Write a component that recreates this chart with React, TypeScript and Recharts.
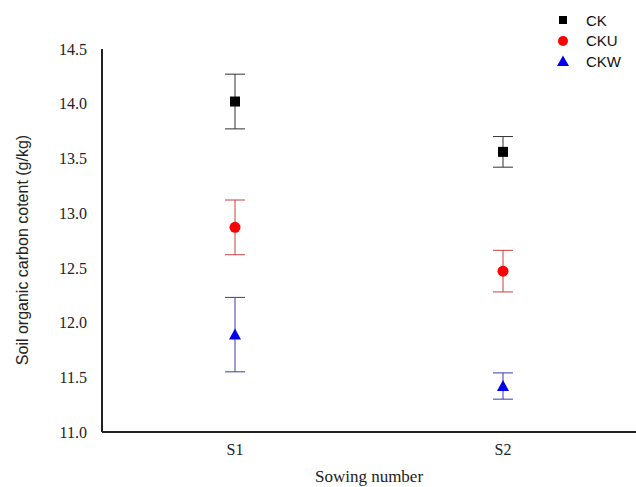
import React from "react";
import {
  ComposedChart,
  Line,
  XAxis,
  YAxis,
  ErrorBar,
  Legend,
  Label,
} from "recharts";

// sowing dates on the x axis
const categories = ["S1", "S2"];

// soil organic carbon, g/kg, with error values
const ck = [14.02, 13.56];
const ckErr = [0.25, 0.14];
const cku = [12.87, 12.47];
const ckuErr = [0.25, 0.19];
const ckw = [11.89, 11.42];
const ckwErr = [0.34, 0.12];

const yTicks = [11.0, 11.5, 12.0, 12.5, 13.0, 13.5, 14.0, 14.5];

const data = categories.map((name, i) => ({
  name,
  ck: ck[i],
  ckErr: ckErr[i],
  cku: cku[i],
  ckuErr: ckuErr[i],
  ckw: ckw[i],
  ckwErr: ckwErr[i],
}));

const SquareDot = (props: any) => {
  const { cx, cy } = props;
  if (cx == null || cy == null) return null;
  return <rect x={cx - 5} y={cy - 5} width={10} height={10} fill="#000" />;
};

const CircleDot = (props: any) => {
  const { cx, cy } = props;
  if (cx == null || cy == null) return null;
  return <circle cx={cx} cy={cy} r={5.5} fill="#ff0000" />;
};

const TriangleDot = (props: any) => {
  const { cx, cy } = props;
  if (cx == null || cy == null) return null;
  return (
    <polygon
      points={`${cx},${cy - 6} ${cx - 6},${cy + 5} ${cx + 6},${cy + 5}`}
      fill="#0000ee"
    />
  );
};

const legendItems = [
  { label: "CK", icon: "square" },
  { label: "CKU", icon: "circle" },
  { label: "CKW", icon: "triangle" },
];

const renderLegend = () => (
  <div style={{ fontFamily: "Arial, 'Liberation Sans', sans-serif", fontSize: 15 }}>
    {legendItems.map((it) => (
      <div
        key={it.label}
        style={{ display: "flex", alignItems: "center", height: 20.5 }}
      >
        <svg width={16} height={14} style={{ marginRight: 15 }}>
          {it.icon === "square" && <rect x={4} y={3} width={8} height={8} fill="#000" />}
          {it.icon === "circle" && <circle cx={8} cy={7} r={5} fill="#ff0000" />}
          {it.icon === "triangle" && (
            <polygon points="8,1.5 2,12 14,12" fill="#0000ee" />
          )}
        </svg>
        <span style={{ color: "#111" }}>{it.label}</span>
      </div>
    ))}
  </div>
);

const serif = "'Times New Roman', 'Liberation Serif', serif";

export default function App() {
  return (
    <div style={{ position: "absolute", left: 0, top: 0, background: "#fff" }}>
      <ComposedChart
        width={636}
        height={487}
        data={data}
        margin={{ top: 49, right: 0, bottom: 25, left: 0 }}
      >
        <XAxis
          dataKey="name"
          height={30}
          padding={{ left: 133, right: 133 }}
          tickLine={false}
          axisLine={{ stroke: "#222", strokeWidth: 2 }}
          tick={{ fill: "#222", fontFamily: serif, fontSize: 16 }}
          tickMargin={6}
        >
          <Label
            value="Sowing number"
            position="bottom"
            offset={8}
            style={{ fill: "#222", fontFamily: serif, fontSize: 17 }}
          />
        </XAxis>
        <YAxis
          width={102}
          domain={[11, 14.5]}
          ticks={yTicks}
          tickFormatter={(v: number) => v.toFixed(1)}
          tickLine={false}
          axisLine={{ stroke: "#222", strokeWidth: 2 }}
          tick={{ fill: "#222", fontFamily: serif, fontSize: 16 }}
          tickMargin={9}
        >
          <Label
            content={() => (
              <text
                x={22}
                y={250}
                transform="rotate(-90 22 250)"
                textAnchor="middle"
                dominantBaseline="central"
                fill="#222"
                fontFamily="Arial, 'Liberation Sans', sans-serif"
                fontSize={16}
              >
                Soil organic carbon cotent (g/kg)
              </text>
            )}
          />
        </YAxis>
        <Legend
          layout="horizontal"
          verticalAlign="middle"
          align="center"
          content={renderLegend}
          wrapperStyle={{ top: 10, left: 555, width: 81 }}
        />
        <Line
          dataKey="ck"
          stroke="none"
          dot={<SquareDot />}
          activeDot={false}
          isAnimationActive={false}
        >
          <ErrorBar dataKey="ckErr" width={10} stroke="#333" strokeWidth={1} />
        </Line>
        <Line
          dataKey="cku"
          stroke="none"
          dot={<CircleDot />}
          activeDot={false}
          isAnimationActive={false}
        >
          <ErrorBar dataKey="ckuErr" width={10} stroke="#c84040" strokeWidth={1} />
        </Line>
        <Line
          dataKey="ckw"
          stroke="none"
          dot={<TriangleDot />}
          activeDot={false}
          isAnimationActive={false}
        >
          <ErrorBar dataKey="ckwErr" width={10} stroke="#3a3ab0" strokeWidth={1} />
        </Line>
      </ComposedChart>
    </div>
  );
}
